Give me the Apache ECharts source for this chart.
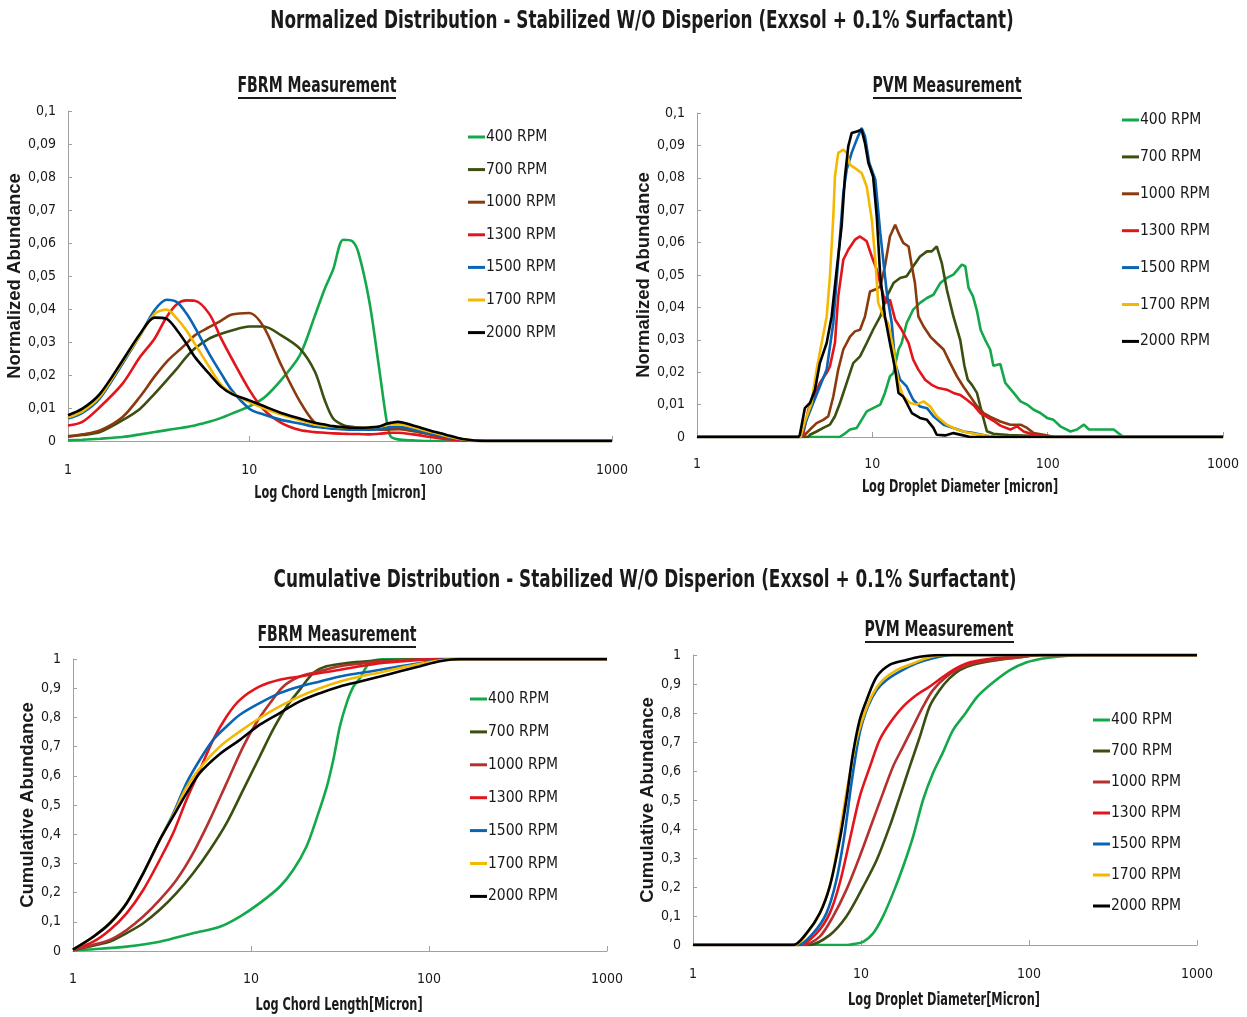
<!DOCTYPE html>
<html><head><meta charset="utf-8">
<script src="https://cdn.jsdelivr.net/npm/echarts@6/dist/echarts.min.js"></script>
<style>html,body{margin:0;padding:0;background:#fff}#c{width:1247px;height:1017px}</style>
</head><body><div id="c"></div>
<script>
// ---------- DATA ----------
const seriesNames = ['400 RPM','700 RPM','1000 RPM','1300 RPM','1500 RPM','1700 RPM','2000 RPM'];
const xTickLabels = ['1','10','100','1000'];

// FBRM normalized (top-left): shared chord-length grid
const fbrmNormX = [1,1.2,1.5,2,2.5,3,3.5,4,4.5,5,6,7,8,10,12,15,19,23,26,29,33,37,40,46,52,57,60,66,80,100,120,150,200,1000];
const fbrmNorm400  = [0.0002,0.0004,0.0007,0.0012,0.002,0.0027,0.0033,0.0038,0.0042,0.0047,0.0058,0.007,0.0083,0.0105,0.013,0.0185,0.026,0.038,0.046,0.052,0.061,0.0605,0.057,0.042,0.022,0.0065,0.0015,0.0005,0.0002,0,0,0,0,0];
const fbrmNorm700  = [0.0014,0.0018,0.0027,0.0063,0.0098,0.0143,0.0184,0.022,0.0255,0.028,0.031,0.0325,0.0335,0.0347,0.0347,0.032,0.028,0.021,0.0125,0.0068,0.0048,0.0043,0.004,0.0038,0.0036,0.0036,0.0037,0.0038,0.0032,0.002,0.0012,0.0004,0,0];
const fbrmNorm1000 = [0.0014,0.002,0.0032,0.0073,0.0135,0.0195,0.024,0.027,0.0295,0.032,0.0345,0.0365,0.0383,0.0388,0.0346,0.023,0.012,0.0055,0.0047,0.0043,0.0041,0.004,0.0038,0.0036,0.0035,0.0034,0.0035,0.0036,0.003,0.002,0.0012,0.0004,0,0];
const fbrmNorm1300 = [0.0047,0.0058,0.0103,0.0174,0.0255,0.031,0.0376,0.0415,0.0426,0.0425,0.0386,0.031,0.025,0.0155,0.0095,0.0055,0.0033,0.0027,0.0025,0.0023,0.0022,0.0021,0.0021,0.002,0.0022,0.0024,0.0025,0.0025,0.002,0.0012,0.0006,0.0002,0,0];
const fbrmNorm1500 = [0.0068,0.0085,0.013,0.0235,0.032,0.0396,0.0428,0.042,0.0386,0.0345,0.0265,0.0204,0.0154,0.0098,0.008,0.0064,0.0053,0.0043,0.004,0.0037,0.0035,0.0034,0.0034,0.0034,0.0036,0.004,0.0042,0.0043,0.0035,0.0022,0.0013,0.0004,0,0];
const fbrmNorm1700 = [0.0072,0.009,0.0135,0.024,0.032,0.0385,0.0398,0.037,0.0335,0.0295,0.0225,0.017,0.0145,0.0118,0.0099,0.008,0.0063,0.005,0.0046,0.0043,0.0041,0.004,0.004,0.0041,0.0043,0.0048,0.005,0.0052,0.0042,0.0027,0.0016,0.0005,0,0];
const fbrmNorm2000 = [0.0078,0.0098,0.0143,0.0244,0.0325,0.0374,0.037,0.0335,0.0295,0.0255,0.0204,0.0164,0.0143,0.0123,0.0106,0.0085,0.0068,0.0055,0.005,0.0045,0.0042,0.004,0.004,0.0041,0.0044,0.0052,0.0055,0.0058,0.0047,0.0031,0.002,0.0006,0,0];

// PVM normalized (top-right): [diameter, abundance]
const pvmNorm400 = [[1,0],[6.5,0],[6.83,0.0007],[7.46,0.0023],[8.15,0.0028],[8.69,0.0053],[9.29,0.0079],[10.1,0.0089],[11.1,0.010],[11.8,0.0136],[12.6,0.0187],[13.2,0.0198],[14.1,0.027],[14.7,0.029],[15.7,0.0352],[17.1,0.0393],[18.7,0.0414],[20.5,0.0429],[22.3,0.0439],[24.4,0.0475],[26.6,0.0491],[29,0.0501],[32.4,0.0532],[33.9,0.0527],[35.4,0.046],[37.5,0.0434],[39.5,0.039],[41.5,0.033],[44,0.030],[47,0.027],[49,0.022],[53.7,0.0225],[57.3,0.0167],[64,0.0136],[70,0.011],[76.3,0.010],[83.2,0.0084],[90.8,0.0074],[99.2,0.0059],[108,0.0053],[118,0.0033],[135,0.0017],[147,0.0023],[161,0.0038],[172,0.0023],[200,0.0023],[238,0.0023],[260,0.0007],[270,0],[1000,0]];
const pvmNorm700 = [[1,0],[4.3,0],[4.41,0.0007],[4.81,0.0017],[5.25,0.0028],[5.73,0.0038],[6.12,0.0064],[6.54,0.0105],[7.14,0.0167],[7.78,0.0228],[8.51,0.0249],[9.29,0.029],[10.1,0.0331],[11.1,0.0372],[12.1,0.0434],[13.2,0.0475],[14.4,0.0491],[15.7,0.0496],[17.1,0.0527],[18.7,0.0557],[20.5,0.0573],[21.8,0.0573],[23.3,0.0588],[24.9,0.0537],[26.6,0.0455],[29,0.0372],[31.7,0.030],[33.5,0.022],[35,0.0177],[37,0.0161],[39.5,0.0136],[42.2,0.0074],[45,0.0018],[49,0.001],[60,0.0006],[80,0.0004],[100,0],[1000,0]];
const pvmNorm1000 = [[1,0],[4,0],[4.12,0.0007],[4.41,0.0023],[4.81,0.0043],[5.25,0.0053],[5.61,0.0064],[5.99,0.0125],[6.39,0.0208],[6.83,0.027],[7.46,0.031],[7.96,0.0326],[8.51,0.0331],[9.08,0.0372],[9.7,0.0449],[10.4,0.0455],[11.1,0.0465],[11.8,0.0527],[12.6,0.0619],[13.5,0.0655],[14.1,0.063],[15,0.0599],[16.1,0.0588],[16.8,0.0527],[17.5,0.0475],[18.3,0.0372],[19.6,0.0341],[21.4,0.031],[23.3,0.029],[25.5,0.027],[27.8,0.0228],[30.4,0.0187],[33.1,0.0155],[36.2,0.0125],[39.5,0.0095],[43.1,0.0074],[47.1,0.0062],[53.7,0.0048],[61.2,0.0038],[70,0.0038],[76.3,0.0028],[83.2,0.0012],[94.9,0.0007],[110,0],[1000,0]];
const pvmNorm1300 = [[1,0],[3.95,0],[4.03,0.0007],[4.31,0.0084],[4.6,0.0115],[5.02,0.0167],[5.49,0.0198],[5.73,0.0218],[6.12,0.029],[6.39,0.0434],[6.83,0.0547],[7.29,0.0578],[7.96,0.0609],[8.51,0.0619],[9.29,0.0604],[9.93,0.0557],[10.6,0.0516],[11.6,0.0434],[12.1,0.0414],[12.6,0.0424],[13.5,0.0362],[14.7,0.0331],[16.1,0.029],[17.1,0.0239],[18.3,0.0208],[20,0.0177],[21.8,0.0161],[23.8,0.0151],[26.6,0.0146],[29,0.0136],[31.7,0.013],[34.6,0.0115],[37.8,0.0098],[41.2,0.0074],[45,0.0062],[49.1,0.005],[53.7,0.0035],[61.2,0.0023],[66.8,0.0033],[72.9,0.0017],[83.2,0.0007],[95,0.0002],[100,0],[1000,0]];
const pvmNorm1500 = [[1,0],[3.9,0],[3.95,0.0007],[4.22,0.0053],[4.6,0.0105],[5.02,0.0156],[5.49,0.0208],[5.99,0.0352],[6.39,0.0547],[6.83,0.0753],[7.14,0.0825],[7.62,0.0877],[8.15,0.0918],[8.69,0.0954],[9.08,0.0928],[9.61,0.0846],[10.4,0.0794],[11.1,0.063],[12.1,0.0444],[12.9,0.0352],[13.5,0.0228],[14.4,0.0177],[15.7,0.0156],[17.1,0.0115],[18.7,0.0094],[20.5,0.0089],[22.3,0.0064],[25.5,0.0038],[29,0.0028],[33.1,0.0017],[37.8,0.0012],[45,0.0004],[50,0],[1000,0]];
const pvmNorm1700 = [[1,0],[3.9,0],[3.95,0.0012],[4.12,0.0048],[4.5,0.0105],[4.81,0.0208],[5.14,0.029],[5.49,0.0372],[5.73,0.0496],[5.99,0.068],[6.12,0.0804],[6.39,0.0877],[6.83,0.0887],[7.14,0.0877],[7.46,0.084],[7.96,0.083],[8.69,0.0815],[9.29,0.0773],[9.93,0.0671],[10.4,0.0547],[10.8,0.0414],[11.6,0.0372],[12.3,0.0352],[13.2,0.027],[14.1,0.0167],[15,0.0125],[16.4,0.0105],[17.9,0.01],[19.6,0.011],[21.4,0.0094],[23.3,0.0064],[26.6,0.0038],[30.4,0.0023],[34.6,0.0014],[41.2,0.0007],[50,0],[1000,0]];
const pvmNorm2000 = [[1,0],[3.8,0],[3.86,0.0007],[4.12,0.0089],[4.41,0.0105],[4.71,0.0146],[5.02,0.0228],[5.49,0.029],[5.86,0.0372],[6.26,0.0516],[6.68,0.065],[6.98,0.0804],[7.29,0.0897],[7.62,0.0938],[8.15,0.0943],[8.69,0.0948],[9.08,0.0907],[9.49,0.0846],[10.1,0.0804],[10.6,0.068],[11.1,0.0496],[11.8,0.0372],[12.6,0.029],[13.5,0.0208],[14.1,0.0136],[15,0.0125],[15.7,0.0105],[16.8,0.0074],[18.7,0.0059],[20.5,0.0053],[22.3,0.0028],[23.3,0.0007],[26,0.0005],[29,0.0012],[33,0.0005],[36,0],[1000,0]];

// FBRM cumulative (bottom-left): [chord length, cumulative]
const fbrmCum400 = [[1,0.002],[1.3,0.006],[2,0.015],[3.07,0.032],[4.73,0.061],[6.68,0.083],[8.66,0.118],[11.2,0.164],[14.5,0.22],[17.3,0.278],[20.5,0.358],[23.4,0.455],[26.6,0.56],[29,0.655],[31.6,0.77],[34.5,0.85],[37.6,0.905],[41,0.935],[44.7,0.975],[48.7,0.994],[58,1],[1000,1]];
const fbrmCum700 = [[1,0.003],[1.3,0.018],[1.61,0.032],[2,0.061],[2.48,0.095],[3.07,0.141],[3.81,0.198],[4.73,0.266],[5.87,0.346],[7.29,0.438],[9.04,0.552],[11.2,0.666],[13.3,0.758],[15.9,0.838],[18.8,0.895],[22.4,0.952],[26.6,0.975],[34.5,0.986],[44.7,0.992],[63,0.996],[115,1],[1000,1]];
const fbrmCum1000 = [[1,0.003],[1.3,0.021],[1.61,0.038],[2,0.072],[2.48,0.118],[3.07,0.175],[3.81,0.243],[4.73,0.335],[5.87,0.449],[7.29,0.575],[9.04,0.70],[10.7,0.781],[12.8,0.849],[15.2,0.906],[18.8,0.94],[24.4,0.958],[31.6,0.975],[41,0.984],[53.1,0.992],[115,1],[1000,1]];
const fbrmCum1300 = [[1,0.004],[1.3,0.032],[1.61,0.072],[2,0.129],[2.48,0.209],[3.07,0.312],[3.65,0.403],[4.34,0.518],[5.16,0.62],[6.13,0.723],[7.29,0.803],[8.66,0.86],[11.2,0.906],[14.5,0.929],[18.8,0.94],[24.4,0.952],[31.6,0.963],[41,0.975],[53.1,0.986],[68.8,0.992],[115,1],[1000,1]];
const fbrmCum1500 = [[1,0.005],[1.3,0.049],[1.61,0.095],[2,0.1635],[2.48,0.266],[3.07,0.38],[3.65,0.47],[4.34,0.575],[5.16,0.655],[6.13,0.723],[7.29,0.769],[8.66,0.809],[11.2,0.849],[14.5,0.883],[18.8,0.906],[24.4,0.923],[31.6,0.94],[41,0.952],[53.1,0.963],[68.8,0.975],[89.1,0.986],[115,0.997],[150,1],[1000,1]];
const fbrmCum1700 = [[1,0.005],[1.3,0.049],[1.61,0.095],[2,0.1635],[2.48,0.266],[3.07,0.38],[3.65,0.465],[4.34,0.56],[5.16,0.626],[6.68,0.70],[8.66,0.752],[11.2,0.798],[14.5,0.838],[18.8,0.872],[24.4,0.90],[31.6,0.923],[41,0.94],[53.1,0.954],[68.8,0.969],[89.1,0.984],[115,0.995],[150,1],[1000,1]];
const fbrmCum2000 = [[1,0.005],[1.3,0.049],[1.61,0.095],[2,0.1635],[2.48,0.266],[3.07,0.38],[3.65,0.46],[4.34,0.54],[5.16,0.61],[6.68,0.675],[8.66,0.723],[11.2,0.775],[14.5,0.815],[18.8,0.855],[24.4,0.883],[31.6,0.906],[41,0.923],[53.1,0.94],[68.8,0.958],[89.1,0.975],[115,0.992],[150,1],[1000,1]];

// PVM cumulative (bottom-right): [diameter, cumulative]
const pvmCum400 = [[1,0],[8.2,0],[9,0.003],[10.3,0.011],[11.8,0.04],[13.5,0.098],[15.5,0.178],[17.8,0.27],[20.4,0.373],[23.4,0.5],[26.8,0.592],[30.8,0.665],[35.3,0.741],[42,0.8],[49,0.855],[61,0.905],[77,0.948],[97,0.975],[121,0.988],[152,0.995],[220,1],[1000,1]];
const pvmCum700 = [[1,0],[4.9,0],[6.51,0.034],[8.18,0.098],[10.3,0.201],[12.4,0.293],[14.8,0.408],[17,0.511],[19.5,0.615],[22.4,0.718],[25.6,0.822],[29.4,0.879],[33.7,0.92],[38.7,0.948],[46.4,0.966],[61,0.98],[88,0.992],[116,1],[1000,1]];
const pvmCum1000 = [[1,0],[4.5,0],[5.68,0.029],[6.81,0.098],[8.18,0.19],[9.82,0.305],[11.8,0.431],[13.5,0.523],[15.5,0.615],[17.8,0.684],[20.4,0.753],[23.4,0.822],[26.8,0.879],[32.2,0.925],[38.7,0.954],[46.4,0.971],[61,0.983],[88,0.992],[116,1],[1000,1]];
const pvmCum1300 = [[1,0],[4.3,0],[5.43,0.04],[6.51,0.109],[7.47,0.213],[8.57,0.362],[9.82,0.511],[11.3,0.615],[12.9,0.707],[14.8,0.764],[17.8,0.822],[21.4,0.862],[25.6,0.891],[30.8,0.925],[35.3,0.948],[42.4,0.971],[55.7,0.985],[80.3,0.994],[116,1],[1000,1]];
const pvmCum1500 = [[1,0],[4.2,0],[5.18,0.04],[6.22,0.109],[7.14,0.224],[8,0.385],[8.77,0.557],[9.82,0.73],[11,0.822],[12.4,0.879],[14.2,0.914],[17,0.943],[21.4,0.971],[26.8,0.989],[35.3,1],[1000,1]];
const pvmCum1700 = [[1,0],[4.0,0],[4.94,0.052],[5.81,0.121],[6.66,0.224],[7.47,0.385],[8.37,0.557],[9.39,0.707],[10.5,0.799],[11.8,0.868],[13.5,0.914],[16.3,0.948],[20.4,0.971],[24.5,0.989],[31,1],[1000,1]];
const pvmCum2000 = [[1,0],[3.94,0],[4.73,0.04],[5.68,0.109],[6.51,0.201],[7.47,0.362],[8.18,0.5],[8.96,0.661],[9.82,0.776],[10.8,0.845],[12.4,0.925],[14.8,0.966],[18.6,0.983],[22.4,0.994],[29.4,1],[1000,1]];

// ---------- STYLE ----------
const NARROW = '"DejaVu Sans Condensed","Liberation Sans Narrow","Open Sans",sans-serif';
const ARIAL = '"Liberation Sans",Arial,sans-serif';
const TXT = '#1a1a1a';
const AX = '#a0a0a0';
const colorsTop = ['#13a84a','#3a4f10','#8b3a0e','#e3141b','#0a64b4','#f5b800','#000000'];
const colorsBottom = ['#13a84a','#3a4f10','#b5312f','#e3141b','#0a64b4','#f5b800','#000000'];

const fbrmNormSets = [fbrmNorm400,fbrmNorm700,fbrmNorm1000,fbrmNorm1300,fbrmNorm1500,fbrmNorm1700,fbrmNorm2000]
  .map(arr => fbrmNormX.map((x,i) => [x, arr[i]]));
const pvmNormSets = [pvmNorm400,pvmNorm700,pvmNorm1000,pvmNorm1300,pvmNorm1500,pvmNorm1700,pvmNorm2000];
const fbrmCumSets = [fbrmCum400,fbrmCum700,fbrmCum1000,fbrmCum1300,fbrmCum1500,fbrmCum1700,fbrmCum2000];
const pvmCumSets = [pvmCum400,pvmCum700,pvmCum1000,pvmCum1300,pvmCum1500,pvmCum1700,pvmCum2000];

const grids = [
  {left:68, top:111, width:544, height:330},
  {left:697, top:113, width:526, height:324},
  {left:73, top:659, width:534, height:292},
  {left:693, top:655, width:504, height:290}
];

function xAxis(gi, margin) {
  return {type:'log', logBase:10, min:1, max:1000, gridIndex:gi,
    axisLine:{show:true, lineStyle:{color:AX, width:1}},
    axisTick:{show:true, inside:true, length:5, lineStyle:{color:AX}},
    minorTick:{show:false}, splitLine:{show:false}, minorSplitLine:{show:false},
    axisLabel:{margin, fontFamily:NARROW, fontSize:14, color:TXT,
      formatter: v => { const s = String(Math.round(v)); return xTickLabels.includes(s) ? s : ''; }}};
}
function yAxis(gi, name, max, interval, digits, gap) {
  return {type:'value', gridIndex:gi, min:0, max, interval,
    name, nameLocation:'middle', nameGap:gap, nameRotate:90,
    nameTextStyle:{fontFamily:ARIAL, fontWeight:'bold', fontSize:18.5, color:TXT},
    axisLine:{show:true, lineStyle:{color:AX, width:1}},
    axisTick:{show:true, inside:true, length:4, lineStyle:{color:AX}},
    splitLine:{show:false},
    axisLabel:{margin:12, fontFamily:NARROW, fontSize:14, color:TXT,
      formatter: v => String(+v.toFixed(digits)).replace('.', ',')}};
}
function legend(left, top, gap, colors) {
  return {orient:'vertical', left, top, padding:0, itemGap:gap, itemWidth:17, itemHeight:3, icon:'rect',
    selectedMode:false, textStyle:{fontFamily:NARROW, fontSize:15.5, color:TXT, lineHeight:16, padding:[0,0,0,-4]},
    data: seriesNames.map((n,i) => ({name:n, itemStyle:{color:colors[i]}}))};
}

const series = [];
function addSeries(sets, gi, colors, smooth) {
  sets.forEach((d,i) => {
    series.push({type:'line', name:seriesNames[i], data:d, xAxisIndex:gi, yAxisIndex:gi,
      symbol:'none', showSymbol:false, smooth,
      lineStyle:{color:colors[i], width:2.6}, itemStyle:{color:colors[i]},
      emphasis:{disabled:true}, silent:true, animation:false});
  });
}
addSeries(fbrmNormSets, 0, colorsTop, 0.3);
addSeries(pvmNormSets, 1, colorsTop, false);
addSeries(fbrmCumSets, 2, colorsBottom, 0.3);
addSeries(pvmCumSets, 3, colorsBottom, 0.3);

function label(x, y, text, size, sx) {
  return {type:'text', x, y, scaleX:sx, silent:true,
    style:{text, fontFamily:NARROW, fontWeight:'bold', fontSize:size, fill:TXT, textAlign:'center', textVerticalAlign:'middle'}};
}
function underline(x, y, w) {
  return {type:'rect', silent:true, shape:{x, y, width:w, height:2}, style:{fill:'#1a1a1a'}};
}

const option = {
  backgroundColor:'#ffffff',
  animation:false,
  grid: grids,
  xAxis: [ xAxis(0, 22), xAxis(1, 20), xAxis(2, 21), xAxis(3, 22) ],
  yAxis: [
    yAxis(0, 'Normalized Abundance', 0.1, 0.01, 2, 35),
    yAxis(1, 'Normalized Abundance', 0.1, 0.01, 2, 32),
    yAxis(2, 'Cumulative Abundance', 1, 0.1, 1, 27),
    yAxis(3, 'Cumulative Abundance', 1, 0.1, 1, 22)
  ],
  legend: [
    legend(468, 129, 16.6, colorsTop),
    legend(1122, 112, 20.9, colorsTop),
    legend(470, 691, 16.9, colorsBottom),
    legend(1093, 712, 15, colorsBottom)
  ],
  graphic: [
    label(642, 21, 'Normalized Distribution - Stabilized W/O Disperion (Exxsol + 0.1% Surfactant)', 25, 0.75),
    label(645, 580, 'Cumulative Distribution - Stabilized W/O Disperion (Exxsol + 0.1% Surfactant)', 25, 0.75),
    label(317, 87, 'FBRM Measurement', 21, 0.745),
    label(947, 87, 'PVM Measurement', 21, 0.745),
    label(337, 636, 'FBRM Measurement', 21, 0.745),
    label(939, 631, 'PVM Measurement', 21, 0.745),
    underline(238, 97, 158),
    underline(873, 97, 149),
    underline(259, 646, 157),
    underline(865, 641, 149),
    label(340, 493, 'Log Chord Length [micron]', 17.5, 0.72),
    label(960, 487, 'Log Droplet Diameter [micron]', 17.5, 0.72),
    label(339, 1005, 'Log Chord Length[Micron]', 17.5, 0.72),
    label(944, 1000, 'Log Droplet Diameter[Micron]', 17.5, 0.72)
  ],
  series
};
const chart = echarts.init(document.getElementById('c'));
chart.setOption(option);
</script></body></html>
